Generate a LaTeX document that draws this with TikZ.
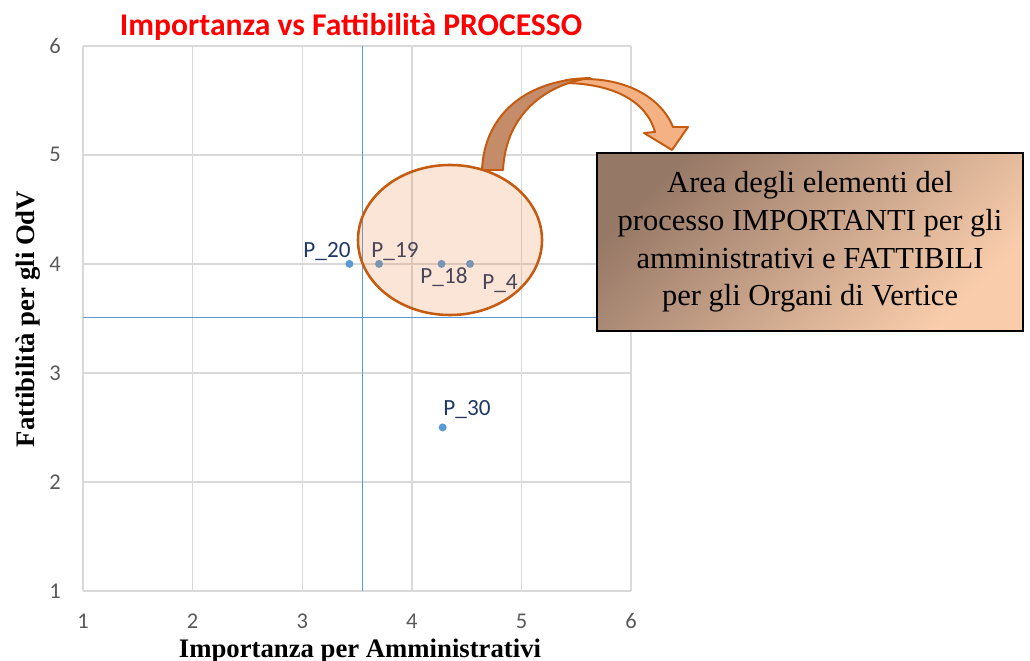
\documentclass[tikz,border=0pt]{standalone}
\usepackage{fontspec}
\setmainfont{Liberation Serif}
\newfontfamily\chartfont{Carlito}
\usepackage{tikz}
\usetikzlibrary{positioning}
\usetikzlibrary{shapes.geometric}
\definecolor{gridgray}{HTML}{D9D9D9}
\definecolor{ticktext}{HTML}{595959}
\definecolor{quadblue}{HTML}{5B9BD5}
\definecolor{labelnavy}{HTML}{1F3864}
\definecolor{accentorange}{HTML}{ED7D31}
\definecolor{rimorange}{HTML}{C55A11}
\definecolor{arrowdark}{HTML}{C48C68}
\definecolor{arrowlight}{HTML}{F4B183}
\definecolor{notedark}{HTML}{967866}
\definecolor{notelight}{HTML}{F9CDAC}
\tikzset{
  grid line/.style={draw=gridgray, line width=1pt},
  quadrant/.style={draw=quadblue, line width=0.7pt},
  tick/.style={font=\chartfont\fontsize{16}{18}\selectfont, text=ticktext, inner sep=0pt},
  dot/.style={circle, fill=quadblue, inner sep=0pt, minimum size=0.2cm},
  ptlab/.style={font=\chartfont\fontsize{16.5}{18}\selectfont, text=labelnavy, inner sep=0pt},
  area ring/.style={ellipse, draw=rimorange, line width=1.8pt, fill=accentorange, fill opacity=0.2, minimum width=4.6cm, minimum height=3.75cm, inner sep=0pt},
  arrow rim/.style={draw=rimorange, line width=1.4pt, line join=round},
  notebox/.style={draw=black, line width=1.3pt, top color=notedark, bottom color=notelight, shading angle=45, minimum width=10.65cm, minimum height=4.45cm, align=center, inner sep=0pt, font=\fontsize{21.7}{26.7}\selectfont},
  chart title/.style={font=\chartfont\bfseries\fontsize{22.5}{26}\selectfont, text=red, inner sep=0pt},
  axis title/.style={font=\bfseries\fontsize{19}{22}\selectfont, inner sep=0pt}
}
\begin{document}
\begin{tikzpicture}[x=0.025cm, y=-0.025cm]
\useasboundingbox (0,0) rectangle (1030,661);
\begin{scope}[shift={(-26.6,700)}, x=2.74cm, y=2.725cm]
\foreach \i in {1,...,6} {
  \draw[grid line] (\i,1) -- (\i,6);
  \draw[grid line] (1,\i) -- (6,\i);
  \node[tick] (xt\i) at (\i,0.725) {\i};
  \node[tick, anchor=east] (yt\i) at (0.80,\i) {\i};
}
\draw[quadrant] (3.545,1) -- (3.545,6);
\draw[quadrant] (1,3.505) -- (6,3.505);
\node[dot] (p20) at (3.43,4) {};
\node[dot] (p19) at (3.70,4) {};
\node[dot] (p18) at (4.27,4) {};
\node[dot] (p4) at (4.53,4) {};
\node[dot] (p30) at (4.28,2.5) {};
\end{scope}
\node[ptlab] (l20) at (327,252) {P\_20};
\node[ptlab] (l19) at (395,252) {P\_19};
\node[ptlab] (l18) at (444,277) {P\_18};
\node[ptlab] (l4) at (500,284) {P\_4};
\node[ptlab] (l30) at (467,410) {P\_30};
\node[area ring] (area) at (450,240) {};
\draw[arrow rim, fill=arrowlight] (566,80) .. controls (620,74) and (660,95) .. (673,127) -- (688,127) -- (672,150) -- (644,133) -- (655,132) .. controls (646,100) and (612,84) .. (566,83) -- cycle;
\draw[arrow rim, fill=arrowdark] (482,170) .. controls (484,118) and (522,80) .. (590,78) .. controls (548,84) and (506,112) .. (503,170) -- cycle;
\node[notebox] (note) at (810,242) {Area degli elementi del\\processo IMPORTANTI per gli\\amministrativi e FATTIBILI\\per gli Organi di Vertice};
\node[chart title] (title) at (351,27) {Importanza vs Fattibilità PROCESSO};
\node[axis title, anchor=base] (xlab) at (360,657) {Importanza per Amministrativi};
\node[axis title, rotate=90] (ylab) at (28,319) {Fattibilità per gli OdV};
\end{tikzpicture}
\end{document}
